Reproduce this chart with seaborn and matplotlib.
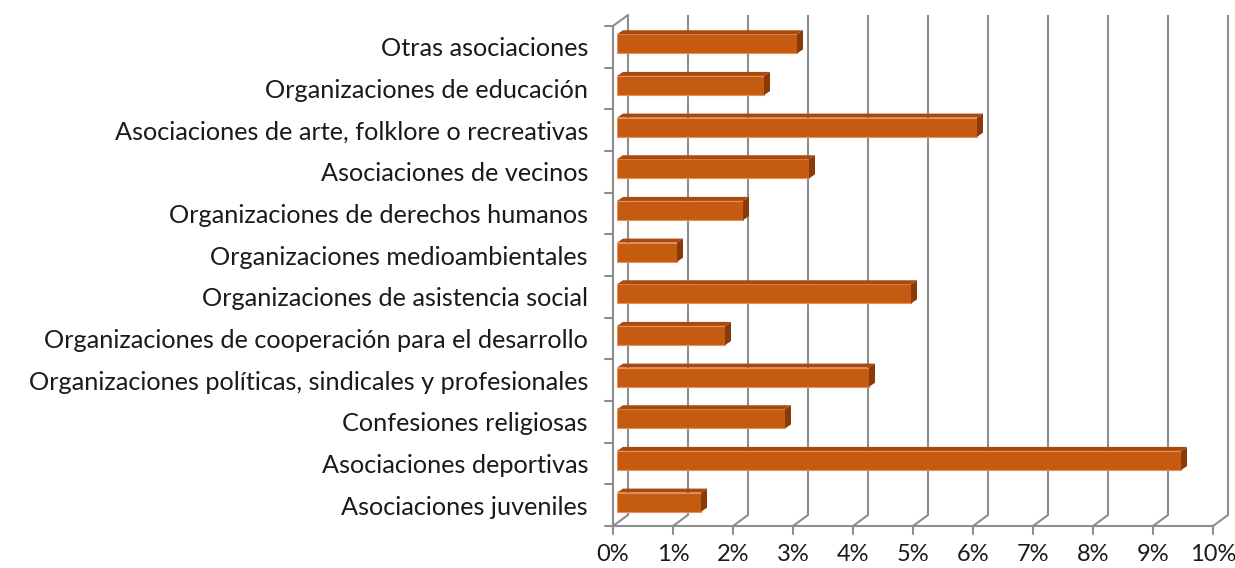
import numpy as np
import pandas as pd
import matplotlib.pyplot as plt
from matplotlib.patches import Polygon
import seaborn as sns

# Data (top to bottom, as in the chart)
categorias = [
    'Otras asociaciones',
    'Organizaciones de educación',
    'Asociaciones de arte, folklore o recreativas',
    'Asociaciones de vecinos',
    'Organizaciones de derechos humanos',
    'Organizaciones medioambientales',
    'Organizaciones de asistencia social',
    'Organizaciones de cooperación para el desarrollo',
    'Organizaciones políticas, sindicales y profesionales',
    'Confesiones religiosas',
    'Asociaciones deportivas',
    'Asociaciones juveniles',
]
porcentajes = [3.0, 2.45, 6.0, 3.2, 2.1, 1.0, 4.9, 1.8, 4.2, 2.8, 9.4, 1.4]
ticks_x = list(range(0, 11))
etiquetas_x = [f'{t}%' for t in ticks_x]

df = pd.DataFrame({'cat': categorias, 'pct': porcentajes})

sns.set_style('white')
plt.rcParams['font.family'] = ['Lato', 'DejaVu Sans']

W, H = 1235, 568
fig = plt.figure(figsize=(W / 100, H / 100), dpi=100)
# front plane of the 3D box: x 613..1213 px, y 26..526 px
ax = fig.add_axes([613 / W, (H - 526) / H, 600 / W, 500 / H])

bar_color = '#C55A11'
sns.barplot(data=df, y='cat', x='pct', orient='h', color=bar_color,
            width=0.46, saturation=1, ax=ax, zorder=3)

ax.set_xlim(0, 10)
ax.set_ylim(len(categorias) - 0.5, -0.5)

n = len(categorias)
px_x = 60.0
px_y = 500 / n
# depth offsets (data units)
back_dx, back_dy = 15 / px_x, -11 / px_y
bar_dx, bar_dy = 4 / px_x, -3 / px_y
dep_dx, dep_dy = 6 / px_x, -4 / px_y

grid_c = '#8E8E8E'
lw = 1.5
bottom = n - 0.5
top = -0.5

# back wall gridlines + floor diagonals
for t in ticks_x:
    ax.plot([t + back_dx, t + back_dx], [bottom + back_dy, top + back_dy],
            color=grid_c, lw=lw, clip_on=False, zorder=1, solid_capstyle='butt')
    ax.plot([t, t + back_dx], [bottom, bottom + back_dy],
            color=grid_c, lw=lw, clip_on=False, zorder=1)
    # front tick marks
    ax.plot([t, t], [bottom, bottom + 8 / px_y], color=grid_c, lw=lw,
            clip_on=False, zorder=1)

# front floor edge and left wall
ax.plot([0, 10], [bottom, bottom], color=grid_c, lw=lw, clip_on=False, zorder=1)
ax.plot([0, 0], [bottom, top], color=grid_c, lw=lw, clip_on=False, zorder=1)
ax.plot([0, back_dx], [top, top + back_dy], color=grid_c, lw=lw, clip_on=False, zorder=1)
for i in range(n + 1):
    yb = i - 0.5
    ax.plot([-8 / px_x, 0], [yb, yb], color=grid_c, lw=lw, clip_on=False, zorder=1)

# shift bars into their depth plane and add top/side faces
for p in ax.patches:
    x0, y0 = p.get_x(), p.get_y()
    w, h = p.get_width(), p.get_height()
    x0 += bar_dx
    y0 += bar_dy
    p.set_x(x0)
    p.set_y(y0)
    p.set_edgecolor('#E8905A')
    p.set_linewidth(0.8)
    top_face = Polygon([(x0, y0), (x0 + w, y0), (x0 + w + dep_dx, y0 + dep_dy),
                        (x0 + dep_dx, y0 + dep_dy)], closed=True,
                       facecolor='#A84A0E', edgecolor='none', zorder=3, clip_on=False)
    side_face = Polygon([(x0 + w, y0), (x0 + w + dep_dx, y0 + dep_dy),
                         (x0 + w + dep_dx, y0 + h + dep_dy), (x0 + w, y0 + h)],
                        closed=True, facecolor='#8A3A08', edgecolor='none',
                        zorder=3, clip_on=False)
    ax.add_patch(top_face)
    ax.add_patch(side_face)
    p.set_clip_on(False)

ax.set_xticks(ticks_x)
ax.set_xticklabels(etiquetas_x)
ax.set_yticks(range(n))
ax.set_yticklabels(categorias)
ax.tick_params(axis='x', length=0, pad=13, labelsize=17, labelcolor='#1a1a1a')
ax.tick_params(axis='y', length=0, pad=18, labelsize=18.2, labelcolor='#1a1a1a')
ax.set_xlabel('')
ax.set_ylabel('')
for s in ax.spines.values():
    s.set_visible(False)
ax.patch.set_alpha(0)

fig.savefig('out.png', dpi=100, facecolor='white')
